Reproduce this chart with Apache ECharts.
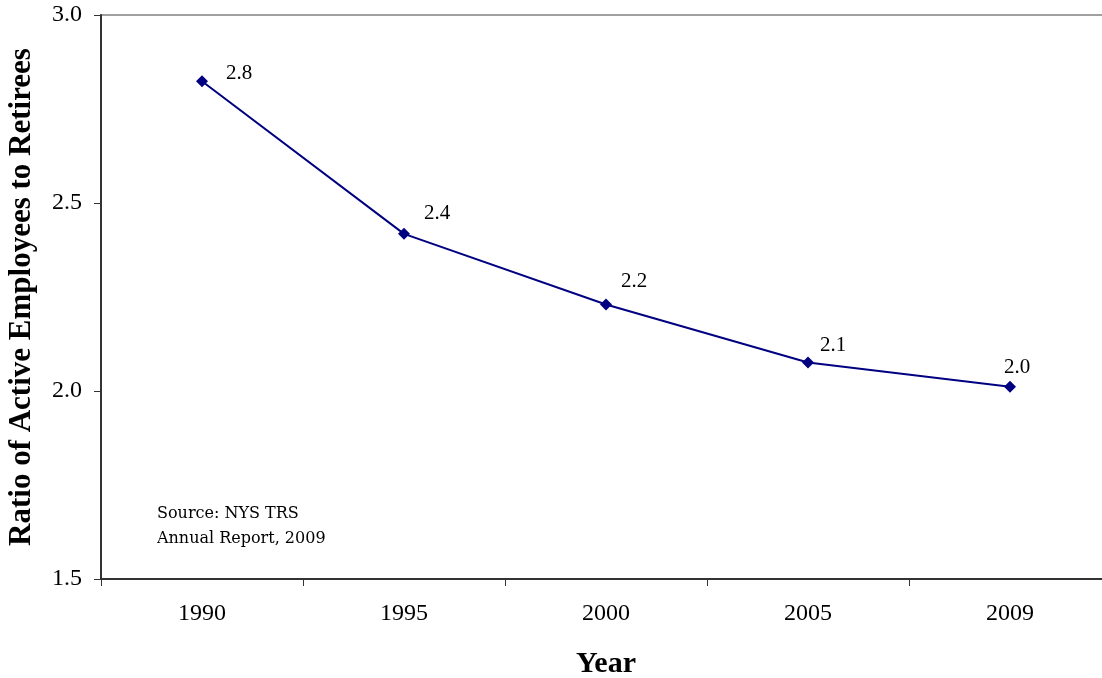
<!DOCTYPE html>
<html>
<head>
<meta charset="utf-8">
<script src="https://cdn.jsdelivr.net/npm/echarts@6/dist/echarts.min.js"></script>
<style>
  html, body { margin: 0; padding: 0; background: #fff; }
  #main { width: 1102px; height: 678px; }
</style>
</head>
<body>
<div id="main"></div>
<script>
// data
var years = ['1990', '1995', '2000', '2005', '2009'];
var ratios = [2.824, 2.418, 2.230, 2.076, 2.011];
var yTicks = [1.5, 2.0, 2.5, 3.0];

// label offsets, one per point (style only)
var labelOffsets = [[37, -8], [33, -20], [28, -23], [25, -17], [7, -19]];

var serif = '"Liberation Serif", "Times New Roman", serif';

function loadChart() {
	var myChart = echarts.init(document.getElementById('main'));

	var points = ratios.map(function (v, i) {
		return {
			value: v,
			label: { offset: labelOffsets[i] }
		};
	});

	var option = {
		animation: false,
		grid: {
			left: 101, top: 15, width: 1010, height: 564,
			outerBoundsMode: 'none',
			containLabel: false,
			show: true, borderColor: '#a0a0a0', borderWidth: 2,
			backgroundColor: 'transparent'
		},
		xAxis: {
			type: 'category',
			data: years,
			boundaryGap: true,
			name: 'Year',
			nameLocation: 'middle',
			nameGap: 70,
			nameTextStyle: { fontFamily: serif, fontSize: 30, fontWeight: 'bold', color: '#000' },
			axisLine: { lineStyle: { color: '#333', width: 2 } },
			axisTick: { show: true, length: 7, lineStyle: { color: '#333' } },
			axisLabel: { margin: 23, fontFamily: serif, fontSize: 24, color: '#000' },
			splitLine: { show: false }
		},
		yAxis: {
			type: 'value',
			min: yTicks[0],
			max: yTicks[yTicks.length - 1],
			interval: 0.5,
			name: 'Ratio of Active Employees to Retirees',
			nameLocation: 'middle',
			nameGap: 64,
			nameTextStyle: { fontFamily: serif, fontSize: 31, fontWeight: 'bold', color: '#000' },
			axisLine: { show: true, lineStyle: { color: '#333', width: 2 } },
			axisTick: { show: true, length: 7, lineStyle: { color: '#333' } },
			axisLabel: {
				margin: 19, fontFamily: serif, fontSize: 24, color: '#000',
				formatter: function (v) { return v.toFixed(1); }
			},
			splitLine: { show: false }
		},
		series: [{
			type: 'line',
			data: points,
			symbol: 'diamond',
			symbolSize: 12,
			itemStyle: { color: '#000080' },
			lineStyle: { color: '#000080', width: 2 },
			label: {
				show: true,
				position: 'inside',
				fontFamily: serif,
				fontSize: 21,
				color: '#000',
				formatter: function (p) { return p.value.toFixed(1); }
			}
		}],
		graphic: [{
			type: 'text',
			left: 157,
			top: 501,
			style: {
				text: 'Source: NYS TRS\nAnnual Report, 2009',
				font: '16px "DejaVu Serif", serif',
				lineHeight: 25,
				fill: '#000'
			}
		}]
	};

	myChart.setOption(option);
}

loadChart();
</script>
</body>
</html>
